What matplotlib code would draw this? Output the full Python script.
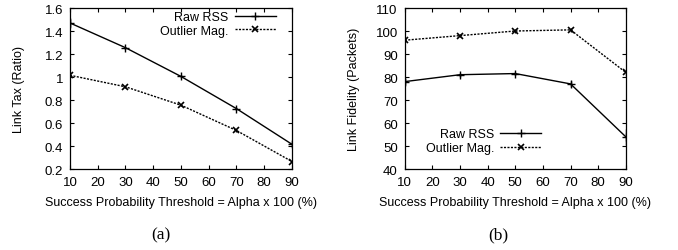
import matplotlib
matplotlib.use("Agg")
import matplotlib.pyplot as plt
from matplotlib.lines import Line2D

plt.rcParams['font.family'] = ['Liberation Sans', 'DejaVu Sans']

alpha = [10, 30, 50, 70, 90]

tax_raw = [1.47, 1.255, 1.005, 0.725, 0.415]
tax_raw_err = [0.04, 0.01, 0.01, 0.01, 0.025]
tax_out = [1.015, 0.915, 0.755, 0.535, 0.265]
tax_out_err = [0.01, 0.01, 0.01, 0.01, 0.01]

fid_raw = [78.0, 81.0, 81.5, 77.0, 54.0]
fid_raw_err = [1.5, 0.8, 0.8, 1.2, 3.5]
fid_out = [96.0, 98.0, 100.0, 100.5, 82.0]
fid_out_err = [0.8, 0.8, 0.8, 0.8, 1.5]

xticks = [10, 20, 30, 40, 50, 60, 70, 80, 90]
xlabel = "Success Probability Threshold = Alpha x 100 (%)"
labels = ['Raw RSS', 'Outlier Mag.']

fig = plt.figure(figsize=(6.78, 2.51), dpi=100)
ax1 = fig.add_axes([0.1032, 0.3227, 0.3274, 0.6414])
ax2 = fig.add_axes([0.597, 0.3227, 0.326, 0.6414])

RAW = dict(color='black', lw=1.0, marker='+', ms=6, mew=1.0)
OUT = dict(color='black', lw=1.0, ls=(0, (1.5, 1)), marker='x', ms=5, mew=1.2)

def style(ax):
    ax.tick_params(direction='in', top=True, right=True, labelsize=9.5, length=3, width=0.8, pad=5)
    for s in ax.spines.values():
        s.set_linewidth(0.9)
    ax.set_xlim(10, 90)
    ax.set_xticks(xticks)
    ax.set_xlabel(xlabel, fontsize=9, labelpad=6)

def draw(ax, raw, raw_err, out, out_err):
    ax.errorbar(alpha, raw, yerr=raw_err, capsize=0, elinewidth=1.0, **RAW)
    ax.errorbar(alpha, out, yerr=out_err, capsize=0, elinewidth=1.0, **OUT)

def handles():
    return [Line2D([], [], **RAW), Line2D([], [], **dict(OUT, ms=4))]

draw(ax1, tax_raw, tax_raw_err, tax_out, tax_out_err)
style(ax1)
ax1.set_ylim(0.2, 1.6)
ax1.set_yticks([0.2, 0.4, 0.6, 0.8, 1, 1.2, 1.4, 1.6])
ax1.set_yticklabels(['0.2', '0.4', '0.6', '0.8', '1', '1.2', '1.4', '1.6'])
ax1.set_ylabel("Link Tax (Ratio)", fontsize=9, labelpad=14)
ax1.legend(handles(), labels, loc='upper right', bbox_to_anchor=(0.945, 1.005), frameon=False,
           markerfirst=False, fontsize=9, handlelength=3.3, handletextpad=0.5, labelspacing=0.15,
           borderpad=0.3, borderaxespad=0)

draw(ax2, fid_raw, fid_raw_err, fid_out, fid_out_err)
style(ax2)
ax2.set_ylim(40, 110)
ax2.set_yticks([40, 50, 60, 70, 80, 90, 100, 110])
ax2.set_ylabel("Link Fidelity (Packets)", fontsize=9, labelpad=11)
ax2.legend(handles(), labels, loc='lower left', bbox_to_anchor=(0.077, 0.07), frameon=False,
           markerfirst=False, fontsize=9, handlelength=3.3, handletextpad=0.5, labelspacing=0.15,
           borderpad=0.3, borderaxespad=0)

fig.text(0.2375, 0.064, "(a)", fontsize=12.5, family=['Liberation Serif'], ha='center', va='center')
fig.text(0.735, 0.064, "(b)", fontsize=12.5, family=['Liberation Serif'], ha='center', va='center')

fig.savefig("out.png", dpi=100)
